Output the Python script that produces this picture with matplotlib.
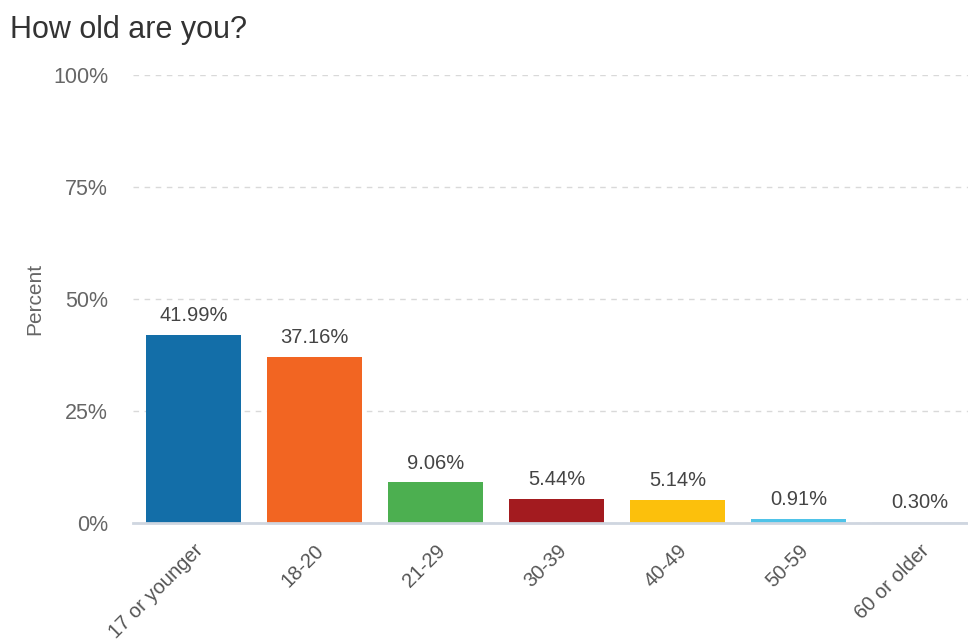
import matplotlib.pyplot as plt
from matplotlib.ticker import FuncFormatter

plt.rcParams['font.family'] = ['Liberation Sans', 'DejaVu Sans']

# data
categories = ['17 or younger', '18-20', '21-29', '30-39', '40-49', '50-59', '60 or older']
percents = [41.99, 37.16, 9.06, 5.44, 5.14, 0.91, 0.30]
colors = ['#136ea8', '#f26522', '#4caf50', '#a31b1f', '#fcc00c', '#4fc3e8', '#dfe3ea']
yticks = [0, 25, 50, 75, 100]

fig = plt.figure(figsize=(9.68, 6.44), dpi=100)
ax = fig.add_axes([0.1374, 0.1879, 0.8626, 0.6957])

x = list(range(len(categories)))
bars = ax.bar(x, percents, width=0.78, color=colors, zorder=3)

for xi, v in zip(x, percents):
    ax.annotate(f'{v:.2f}%', (xi, v), xytext=(0, 7), textcoords='offset points',
                ha='center', va='bottom', fontsize=14.5, color='#444444')

ax.set_xlim(-0.5, 6.4)
ax.set_ylim(0, 100)
ax.set_yticks(yticks)
ax.yaxis.set_major_formatter(FuncFormatter(lambda v, p: f'{v:.0f}%'))
ax.tick_params(axis='y', length=0, pad=18, labelsize=15.5, labelcolor='#666666')
ax.grid(axis='y', linestyle=(0, (4, 4)), color='#d9d9d9', linewidth=1, zorder=0)
for s in ['top', 'right', 'left']:
    ax.spines[s].set_visible(False)
ax.spines['bottom'].set_color('#cfd6e0')
ax.spines['bottom'].set_linewidth(2)
ax.spines['bottom'].set_zorder(4)

ax.set_xticks(x)
ax.set_xticklabels(categories, rotation=45, ha='right', rotation_mode='anchor',
                   fontsize=14.5, color='#555555')
ax.tick_params(axis='x', length=0, pad=13)

ax.set_ylabel('Percent', fontsize=15, color='#666666', labelpad=6)
fig.text(0.0103, 0.953, 'How old are you?', fontsize=22, color='#333333', va='center')

fig.savefig('out.png', dpi=100)
